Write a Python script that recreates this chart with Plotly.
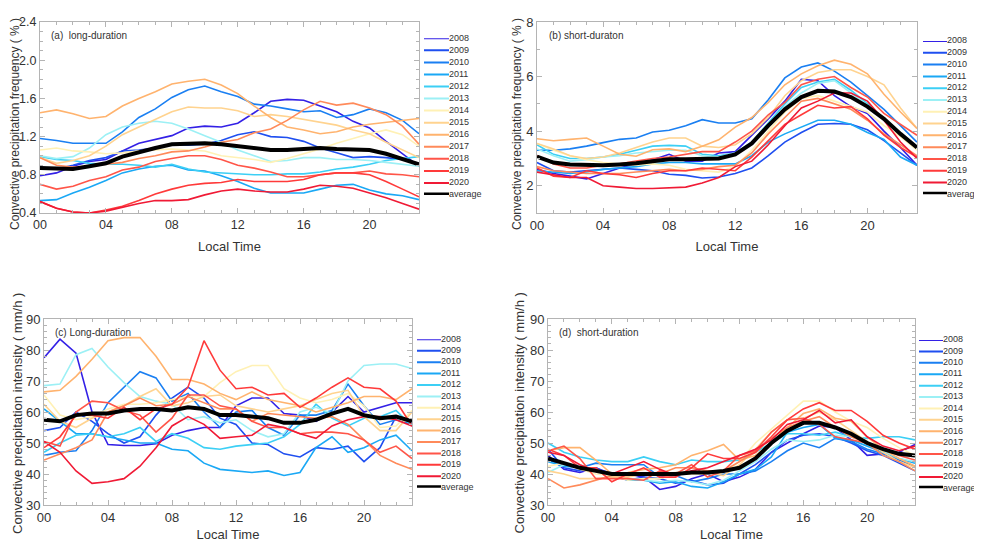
import plotly.graph_objects as go

hours = list(range(24))
tick_hours = [0, 4, 8, 12, 16, 20]
tick_text = ["00", "04", "08", "12", "16", "20"]
years = ["2008", "2009", "2010", "2011", "2012", "2013", "2014",
         "2015", "2016", "2017", "2018", "2019", "2020"]
colors = ["#3320e6", "#1f4ff0", "#1a7ff2", "#1aa8f5", "#3ccff5", "#9cf0f5", "#fff1b5",
          "#ffd38f", "#ffb36e", "#ff8a5a", "#ff5548", "#ff3a3a", "#f01a35"]

# (a) frequency, long-duration (%)
freq_long = [
    [0.79, 0.82, 0.89, 0.94, 0.96, 1.05, 1.13, 1.17, 1.21, 1.29, 1.31, 1.30, 1.34, 1.45, 1.57, 1.59, 1.58, 1.52, 1.46, 1.36, 1.29, 1.15, 1.02, 0.89],
    [0.88, 0.86, 0.90, 0.95, 0.98, 1.05, 1.06, 1.08, 1.12, 1.11, 1.12, 1.16, 1.22, 1.25, 1.20, 1.19, 1.15, 1.08, 1.03, 0.98, 0.99, 0.98, 0.96, 0.92],
    [1.18, 1.16, 1.13, 1.13, 1.13, 1.25, 1.40, 1.49, 1.61, 1.69, 1.73, 1.67, 1.62, 1.54, 1.52, 1.49, 1.46, 1.47, 1.40, 1.43, 1.49, 1.45, 1.37, 1.23],
    [0.53, 0.54, 0.61, 0.67, 0.74, 0.82, 0.86, 0.89, 0.90, 0.85, 0.84, 0.79, 0.73, 0.66, 0.61, 0.61, 0.61, 0.65, 0.69, 0.70, 0.64, 0.60, 0.58, 0.54],
    [0.99, 0.96, 0.95, 0.92, 0.91, 0.91, 0.90, 0.88, 0.91, 0.86, 0.83, 0.82, 0.81, 0.80, 0.80, 0.81, 0.81, 0.83, 0.86, 0.88, 0.91, 0.95, 0.97, 0.99],
    [1.00, 0.97, 0.99, 1.08, 1.22, 1.30, 1.34, 1.36, 1.34, 1.28, 1.21, 1.14, 1.06, 1.00, 0.94, 0.95, 0.98, 0.98, 0.96, 0.96, 0.95, 0.93, 0.91, 0.89],
    [1.06, 1.08, 1.05, 1.04, 1.02, 1.03, 1.05, 1.06, 1.07, 1.06, 1.05, 1.00, 0.98, 0.96, 0.93, 0.97, 1.02, 1.07, 1.13, 1.18, 1.23, 1.27, 1.22, 1.10],
    [0.98, 0.92, 0.95, 1.00, 1.10, 1.22, 1.30, 1.38, 1.46, 1.51, 1.50, 1.50, 1.47, 1.41, 1.43, 1.41, 1.38, 1.35, 1.32, 1.27, 1.23, 1.14, 1.06, 0.98],
    [1.45, 1.48, 1.44, 1.39, 1.41, 1.52, 1.60, 1.67, 1.75, 1.78, 1.80, 1.74, 1.65, 1.52, 1.40, 1.30, 1.27, 1.23, 1.25, 1.30, 1.33, 1.35, 1.37, 1.39],
    [0.98, 0.90, 0.88, 0.89, 0.91, 0.93, 0.97, 1.00, 1.04, 1.05, 1.09, 1.14, 1.17, 1.24, 1.28, 1.37, 1.48, 1.57, 1.53, 1.55, 1.50, 1.43, 1.31, 1.12],
    [0.70, 0.65, 0.68, 0.74, 0.78, 0.85, 0.88, 0.94, 0.97, 1.00, 1.00, 0.96, 0.90, 0.87, 0.83, 0.78, 0.78, 0.80, 0.82, 0.82, 0.84, 0.81, 0.80, 0.78],
    [0.52, 0.45, 0.41, 0.40, 0.43, 0.47, 0.53, 0.60, 0.65, 0.69, 0.71, 0.72, 0.75, 0.73, 0.73, 0.73, 0.75, 0.80, 0.82, 0.82, 0.80, 0.73, 0.65, 0.57],
    [0.52, 0.45, 0.41, 0.40, 0.42, 0.46, 0.50, 0.53, 0.53, 0.54, 0.59, 0.63, 0.65, 0.63, 0.62, 0.62, 0.65, 0.69, 0.68, 0.66, 0.61, 0.56, 0.50, 0.44],
]
freq_long_avg = [0.87, 0.86, 0.86, 0.89, 0.92, 0.99, 1.04, 1.08, 1.12, 1.13, 1.13, 1.12, 1.10, 1.08, 1.06, 1.06, 1.07, 1.08, 1.07, 1.07, 1.06, 1.02, 0.97, 0.91]

# (b) frequency, short-duration (%)
freq_short = [
    [2.60, 2.45, 2.35, 2.25, 2.45, 2.65, 2.80, 2.95, 3.15, 2.90, 2.90, 3.20, 3.25, 3.85, 4.45, 5.10, 5.90, 5.85, 5.30, 4.90, 4.65, 4.00, 3.40, 2.75],
    [2.85, 2.55, 2.50, 2.55, 2.60, 2.65, 2.60, 2.55, 2.42, 2.38, 2.28, 2.32, 2.45, 2.65, 3.10, 3.60, 3.95, 4.25, 4.28, 4.25, 4.05, 3.65, 3.20, 2.75],
    [3.30, 3.30, 3.35, 3.45, 3.58, 3.70, 3.75, 3.97, 4.03, 4.20, 4.42, 4.30, 4.30, 4.45, 5.15, 5.95, 6.35, 6.50, 6.20, 5.80, 5.30, 4.80, 4.20, 3.60],
    [2.55, 2.50, 2.45, 2.50, 2.60, 2.65, 2.70, 2.80, 2.85, 2.85, 2.80, 2.80, 2.80, 3.10, 3.60, 3.90, 4.15, 4.40, 4.40, 4.25, 3.95, 3.70, 3.05, 2.75],
    [3.50, 3.15, 3.00, 3.00, 3.05, 3.15, 3.30, 3.45, 3.48, 3.45, 3.15, 3.10, 3.20, 3.60, 4.30, 5.00, 5.60, 5.80, 5.90, 5.50, 5.00, 4.40, 3.90, 3.45],
    [3.35, 3.10, 2.90, 2.95, 3.05, 3.10, 3.20, 3.25, 3.30, 3.30, 3.10, 3.05, 3.20, 3.55, 4.20, 4.90, 5.40, 5.75, 5.85, 5.40, 4.95, 4.40, 3.85, 3.40],
    [3.55, 3.30, 3.10, 2.95, 2.85, 2.80, 2.75, 2.80, 2.75, 2.60, 2.55, 2.50, 2.70, 3.30, 4.00, 4.70, 5.20, 5.30, 5.10, 4.90, 4.70, 4.20, 3.80, 3.30],
    [3.55, 3.35, 3.10, 3.00, 3.05, 3.20, 3.40, 3.60, 3.75, 3.75, 3.45, 3.40, 3.50, 3.90, 4.50, 5.30, 5.85, 6.15, 6.25, 6.25, 6.00, 5.70, 4.85, 4.10],
    [3.72, 3.65, 3.70, 3.75, 3.45, 3.15, 3.08, 3.32, 3.35, 3.25, 3.45, 3.68, 4.15, 4.50, 5.05, 5.70, 6.10, 6.40, 6.60, 6.45, 6.10, 5.35, 4.70, 4.10],
    [2.70, 2.55, 2.50, 2.45, 2.45, 2.45, 2.50, 2.55, 2.60, 2.55, 2.60, 2.70, 2.75, 3.20, 3.90, 4.50, 5.10, 5.20, 5.00, 4.80, 4.40, 3.90, 3.50, 3.10],
    [3.10, 2.80, 2.65, 2.65, 2.75, 2.80, 2.90, 3.00, 3.05, 3.15, 3.25, 3.25, 3.60, 4.00, 4.60, 5.05, 5.70, 5.90, 6.00, 5.60, 5.25, 4.65, 4.25, 3.85],
    [2.65, 2.35, 2.30, 2.55, 2.45, 2.40, 2.30, 2.45, 2.55, 2.55, 2.65, 2.60, 2.55, 3.05, 3.65, 4.25, 4.60, 4.95, 4.85, 4.90, 4.45, 3.85, 3.40, 3.05],
    [2.50, 2.40, 2.30, 2.30, 2.00, 1.95, 1.90, 1.90, 1.92, 1.95, 2.10, 2.30, 2.70, 2.90, 3.50, 4.20, 4.85, 5.10, 5.40, 5.40, 5.10, 4.40, 3.60, 3.00],
]
freq_short_avg = [3.07, 2.85, 2.78, 2.75, 2.75, 2.78, 2.82, 2.90, 2.97, 2.97, 2.98, 3.00, 3.15, 3.55, 4.20, 4.80, 5.25, 5.48, 5.45, 5.25, 4.90, 4.45, 3.90, 3.40]

# (c) intensity, long-duration (mm/h)
int_long = [
    [77.5, 83.5, 79.0, 60.0, 49.5, 49.2, 49.2, 49.8, 52.5, 54.0, 55.0, 55.0, 62.0, 64.5, 64.5, 59.5, 59.0, 57.0, 60.0, 65.0, 60.0, 61.5, 63.0, 63.0],
    [54.0, 55.0, 60.0, 57.0, 53.0, 50.0, 52.0, 59.0, 64.5, 68.0, 64.5, 58.0, 56.0, 50.0, 49.5, 46.5, 45.5, 48.5, 48.0, 49.0, 44.0, 48.5, 58.5, 57.0],
    [46.0, 47.0, 47.5, 54.0, 63.0, 68.0, 73.0, 71.0, 63.5, 66.0, 60.0, 55.0, 60.0, 60.5, 55.0, 52.5, 59.0, 59.0, 60.5, 69.0, 62.0, 56.0, 57.5, 56.0],
    [61.0, 57.0, 53.0, 53.0, 52.0, 51.0, 50.0, 50.0, 48.0, 47.5, 43.5, 41.5, 41.0, 40.5, 41.0, 39.5, 40.5, 48.5, 52.0, 47.0, 48.5, 51.0, 52.5, 47.5],
    [47.0, 50.0, 52.5, 53.0, 52.0, 53.0, 55.0, 50.5, 53.0, 51.5, 48.5, 48.0, 49.0, 49.5, 50.0, 52.0, 56.0, 62.5, 58.0, 55.5, 58.0, 58.5, 60.5, 55.5],
    [68.5, 69.0, 78.5, 80.5, 74.5, 69.5, 65.0, 63.5, 62.5, 57.5, 58.5, 56.5, 57.5, 54.0, 52.0, 53.0, 60.0, 61.5, 59.5, 70.0, 75.0, 75.5, 75.5, 74.0],
    [65.5, 59.0, 57.5, 58.5, 61.0, 62.5, 62.5, 63.0, 64.0, 65.0, 65.0, 69.5, 73.0, 75.0, 75.0, 67.5, 64.5, 63.0, 64.0, 66.0, 62.0, 55.0, 55.5, 60.5],
    [62.5, 57.0, 55.0, 58.0, 60.0, 62.0, 65.0, 67.5, 62.0, 63.0, 65.0, 65.5, 62.0, 61.0, 60.0, 61.0, 62.0, 64.0, 66.0, 67.0, 58.5, 54.0, 54.0, 60.0],
    [66.5, 67.0, 71.5, 77.0, 83.0, 84.0, 84.0, 78.0, 70.5, 70.5, 69.0, 66.0, 64.0, 66.5, 64.0, 63.0, 62.0, 60.0, 61.5, 63.0, 65.0, 65.0, 64.0, 67.5],
    [44.5, 46.5, 48.5, 51.0, 60.0, 62.0, 64.5, 62.0, 62.5, 65.0, 63.0, 61.0, 61.0, 57.0, 59.5, 59.0, 58.5, 58.0, 58.5, 56.0, 51.0, 46.0, 43.5, 41.5],
    [50.5, 49.0, 60.0, 63.5, 63.0, 60.5, 59.0, 53.5, 58.0, 65.5, 65.5, 62.0, 61.0, 57.0, 55.0, 55.0, 53.0, 53.5, 53.5, 53.0, 51.0, 47.0, 49.0, 45.0],
    [48.5, 52.0, 59.0, 59.0, 58.0, 61.5, 57.5, 61.0, 62.5, 68.0, 83.0, 73.5, 67.5, 68.0, 65.5, 66.0, 61.5, 64.5, 68.0, 71.0, 68.0, 67.5, 63.5, 55.5],
    [50.5, 47.0, 41.0, 37.0, 37.5, 38.5, 42.5, 48.5, 55.5, 58.5, 56.0, 51.5, 52.0, 52.5, 56.0, 55.0, 53.0, 51.5, 55.5, 57.5, 58.5, 58.5, 57.5, 55.5],
]
int_long_avg = [57.5, 57.0, 59.0, 59.5, 59.5, 60.5, 61.0, 61.0, 60.5, 61.5, 61.0, 59.0, 59.0, 58.5, 58.0, 56.5, 56.5, 57.5, 59.5, 61.0, 59.0, 58.0, 58.5, 57.0]

# (d) intensity, short-duration (mm/h)
int_short = [
    [46.0, 41.5, 40.5, 42.0, 40.0, 40.0, 39.0, 35.0, 36.0, 38.5, 40.0, 37.5, 39.0, 41.5, 47.0, 50.0, 53.0, 55.5, 55.0, 51.0, 46.0, 46.5, 47.0, 49.5],
    [48.0, 42.0, 41.0, 42.0, 39.5, 38.0, 39.0, 38.5, 37.0, 38.0, 36.5, 37.0, 40.0, 43.0, 47.0, 51.0, 52.5, 53.0, 52.0, 50.0, 47.5, 46.0, 43.5, 41.0],
    [44.5, 43.0, 42.0, 43.5, 43.0, 43.0, 43.0, 39.0, 39.5, 37.5, 38.5, 40.0, 40.0, 41.0, 44.0, 47.5, 50.0, 48.5, 51.5, 50.5, 48.0, 46.5, 44.5, 42.5],
    [44.0, 42.5, 42.0, 41.0, 40.0, 38.0, 38.0, 37.0, 37.5, 36.0, 35.5, 37.5, 40.0, 41.5, 45.5, 53.5, 55.0, 56.0, 51.5, 51.0, 49.0, 47.0, 45.0, 43.5],
    [50.0, 47.0, 45.5, 44.5, 44.0, 44.0, 45.5, 44.0, 43.0, 44.5, 44.0, 44.0, 44.5, 47.0, 50.0, 53.0, 53.0, 52.5, 53.5, 52.0, 51.5, 52.0, 52.0, 51.0],
    [40.5, 43.0, 43.0, 41.0, 39.0, 38.5, 38.0, 37.5, 38.0, 37.5, 36.5, 38.0, 41.0, 44.0, 48.0, 51.0, 50.5, 51.0, 52.5, 52.0, 50.5, 47.5, 45.0, 44.0],
    [42.5, 43.5, 41.5, 40.0, 39.5, 38.0, 38.5, 38.5, 40.0, 40.0, 40.0, 40.5, 44.0, 50.0, 54.5, 59.0, 63.5, 63.5, 60.0, 57.0, 55.0, 51.5, 48.5, 46.0],
    [41.0, 40.0, 38.5, 38.5, 39.0, 39.0, 40.0, 40.0, 40.5, 40.5, 40.5, 39.5, 43.0, 48.0, 53.5, 57.5, 58.0, 60.0, 57.5, 54.0, 50.5, 47.0, 44.0, 42.0],
    [47.5, 48.5, 48.5, 44.5, 40.0, 40.5, 41.5, 42.0, 43.0, 46.0, 47.5, 49.5, 44.5, 46.0, 50.0, 55.0, 59.5, 61.0, 58.0, 57.0, 52.0, 48.0, 45.0, 42.5],
    [38.5, 35.5, 36.5, 38.0, 39.5, 39.5, 40.0, 40.0, 42.0, 42.0, 41.0, 41.0, 44.0, 47.0, 51.5, 55.0, 57.0, 58.5, 55.0, 52.0, 50.0, 46.0, 44.0, 41.0],
    [47.5, 49.0, 45.0, 38.5, 38.5, 38.5, 38.0, 41.0, 40.0, 43.0, 39.0, 41.0, 46.0, 47.5, 53.5, 57.5, 58.0, 56.0, 52.0, 51.0, 50.0, 48.0, 46.0, 44.5],
    [48.0, 46.0, 42.0, 42.0, 37.5, 40.0, 42.0, 39.0, 39.0, 42.0, 46.5, 45.0, 45.0, 47.0, 52.0, 57.5, 61.0, 63.0, 60.5, 60.5, 57.0, 52.5, 50.0, 48.0],
    [47.0, 46.0, 43.0, 41.0, 40.0, 42.0, 44.0, 41.5, 39.5, 41.0, 42.0, 44.0, 46.0, 48.0, 51.0, 56.0, 57.5, 60.5, 56.5, 57.5, 52.0, 49.0, 47.5, 49.0],
]
int_short_avg = [45.0, 43.5, 42.0, 41.0, 40.0, 40.0, 40.0, 40.0, 40.0, 40.5, 40.5, 41.0, 42.0, 45.0, 50.0, 54.0, 56.5, 56.5, 55.0, 53.0, 50.0, 48.0, 46.5, 46.0]

# the page body has an 8px margin, so the figure is made smaller and shifted
OFF = 8
W, H = 982 - OFF, 542 - OFF
FONT = "Liberation Sans, Arial, sans-serif"
TXT = "#333333"
FRAME = "#b4b4b4"


def px_x(a, b):
    return [(a - OFF) / W, (b - OFF) / W]


def px_y(top, bottom):
    return [1 - (bottom - OFF) / H, 1 - (top - OFF) / H]


# panel: data, avg, plot box (l, r, t, b), y range, dtick, minor dtick, format, tick size,
#        y title, its centre and size, legend box, label
panels = [
    (freq_long, freq_long_avg, (40, 419, 22, 213), [0.4, 2.4], 0.4, 0.1, ".1f", 12.5,
     "Convective precipitation frequency ( % )", (15, 124, 12), (424, 449, 38.3, 195), "(a)  long-duration"),
    (freq_short, freq_short_avg, (537, 917, 22, 213), [1, 8], 2, 1, "d", 13,
     "Convective precipitation frequency ( % )", (517, 124, 12), (923, 947, 41, 194.3), "(b) short-duraton"),
    (int_long, int_long_avg, (44, 412, 319, 505), [30, 90], 10, 2, "d", 13,
     "Convective precipitation intensity ( mm/h )", (17.5, 413.5, 13), (417, 441, 339.3, 487.7), "(c) Long-duration"),
    (int_short, int_short_avg, (548, 915, 319, 505), [30, 90], 10, 2, "d", 13,
     "Convective precipitation intensity ( mm/h )", (519, 413.5, 13), (919, 943, 340, 488.3), "(d)  short-duration"),
]

fig = go.Figure()
layout = {}
annotations = []
names = years + ["average"]
line_cols = colors + ["black"]

for i, (series, avg, box, yr, dt, mdt, fmt, tsize, ytitle, tpos, lg, label) in enumerate(panels):
    n = i + 1
    suf = str(n) if n > 1 else ""
    xa, ya = "x" + suf, "y" + suf
    for name, col, vals in zip(years, colors, series):
        fig.add_trace(go.Scatter(x=hours, y=vals, mode="lines", name=name,
                                 line=dict(color=col, width=1.6),
                                 xaxis=xa, yaxis=ya, showlegend=False))
    fig.add_trace(go.Scatter(x=hours, y=avg, mode="lines", name="average",
                             line=dict(color="black", width=4),
                             xaxis=xa, yaxis=ya, showlegend=False))
    l, r, t, b = box
    axis_common = dict(showline=True, linecolor=FRAME, linewidth=1, mirror="allticks",
                       ticks="inside", tickcolor=FRAME, ticklen=5, showgrid=False,
                       zeroline=False, automargin=False,
                       tickfont=dict(size=tsize, color=TXT, family=FONT))
    layout["xaxis" + suf] = dict(
        domain=px_x(l, r), anchor=ya, range=[0, 23], tickvals=tick_hours, ticktext=tick_text,
        minor=dict(dtick=1, ticks="inside", ticklen=3, tickcolor=FRAME),
        title=dict(text="Local Time", font=dict(size=13, color=TXT, family=FONT), standoff=10),
        **axis_common)
    layout["yaxis" + suf] = dict(
        domain=px_y(t, b), anchor=xa, range=yr, dtick=dt, tick0=0, tickformat=fmt,
        minor=dict(dtick=mdt, tick0=0, ticks="inside", ticklen=3, tickcolor=FRAME),
        **axis_common)
    # y title as a rotated annotation so it sits clear of the tick labels
    annotations.append(dict(text=ytitle, xref="paper", yref="paper",
                            x=(tpos[0] - OFF) / W, y=1 - (tpos[1] - OFF) / H,
                            xanchor="center", yanchor="middle", textangle=-90,
                            showarrow=False, font=dict(size=tpos[2], color=TXT, family=FONT)))
    annotations.append(dict(text=label, xref=xa + " domain", yref=ya + " domain",
                            x=0.025, y=0.93, xanchor="left", yanchor="middle", showarrow=False,
                            font=dict(size=10, color=TXT, family=FONT)))

    # hand-made legend drawn on its own small axis
    m = n + 4
    lx, ly = "x%d" % m, "y%d" % m
    ll, lr, lf, la = lg
    for k, (name, col) in enumerate(zip(names, line_cols)):
        fig.add_trace(go.Scatter(x=[0, 1], y=[k, k], mode="lines+text", text=["", name],
                                 textposition="middle right", cliponaxis=False,
                                 textfont=dict(size=9, color=TXT, family=FONT),
                                 line=dict(color=col, width=5 if name == "average" else 2),
                                 xaxis=lx, yaxis=ly, showlegend=False, hoverinfo="skip"))
    layout["xaxis%d" % m] = dict(domain=px_x(ll, lr), anchor=ly, range=[0, 1], visible=False,
                                 fixedrange=True, automargin=False)
    layout["yaxis%d" % m] = dict(domain=px_y(lf, la), anchor=lx, range=[13, 0], visible=False,
                                 fixedrange=True, automargin=False)

fig.update_layout(width=W, height=H, margin=dict(l=0, r=0, t=0, b=0),
                  paper_bgcolor="white", plot_bgcolor="white", showlegend=False,
                  annotations=annotations, font=dict(family=FONT, color=TXT), **layout)

fig.write_html("out.html")
